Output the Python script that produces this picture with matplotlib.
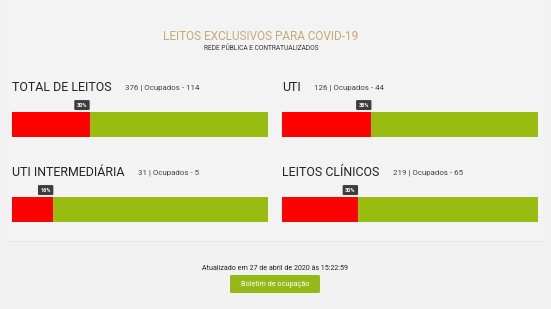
import matplotlib.pyplot as plt
from matplotlib.patches import FancyBboxPatch, Rectangle

plt.rcParams['font.family'] = ['Roboto', 'DejaVu Sans']

categories = ['TOTAL DE LEITOS', 'UTI', 'UTI INTERMEDIÁRIA', 'LEITOS CLÍNICOS']
totals = [376, 126, 31, 219]
occupied = [114, 44, 5, 65]
pct_labels = ['30%', '35%', '16%', '30%']

W, H = 551, 309
fig = plt.figure(figsize=(W / 100, H / 100), dpi=100)
fig.patch.set_facecolor('#f2f2f2')


def fx(x):
    return x / W


def fy(y):
    return 1 - y / H


# barely lighter panel behind the bars
fig.add_artist(Rectangle((fx(8), fy(241)), fx(535), 241 / H, transform=fig.transFigure,
                         fc='#f3f3f3', ec='none', zorder=0))
fig.add_artist(plt.Line2D([fx(8), fx(543)], [fy(241), fy(241)], color='#e8e8e8', lw=0.8))

# header
fig.text(fx(261), fy(36), 'LEITOS EXCLUSIVOS PARA COVID-19', ha='center', va='center',
         fontsize=8.5, color='#c8a874')
fig.text(fx(261), fy(48), 'REDE PÚBLICA E CONTRATUALIZADOS', ha='center', va='center',
         fontsize=4.8, color='#333333')

# panel layout (pixels): left edge, bar top
lefts = [12, 282, 12, 282]
tops = [112, 112, 197, 197]
bar_w, bar_h = 256, 25

for i, cat in enumerate(categories):
    x0, y0 = lefts[i], tops[i]
    ax = fig.add_axes([fx(x0), fy(y0 + bar_h), bar_w / W, bar_h / H])
    share = occupied[i] / totals[i] * 100
    ax.barh([0], [share], height=1, left=0, color='#ff0000', edgecolor='none')
    ax.barh([0], [100 - share], height=1, left=share, color='#98bc0f', edgecolor='none')
    ax.set_xlim(0, 100)
    ax.set_ylim(-0.5, 0.5)
    ax.axis('off')

    t = fig.text(fx(x0), fy(88), cat, ha='left', va='center', fontsize=8.9, color='#222222')
    if i >= 2:
        t.set_y(fy(173))
    ax.annotate(f'{totals[i]} | Ocupados - {occupied[i]}', xy=(1, 0.5), xycoords=t,
                xytext=(9.5, 0), textcoords='offset points', ha='left', va='center',
                fontsize=5.7, color='#444444')

    # percentage badge, right-aligned to the end of the red segment
    ax.annotate(pct_labels[i], xy=(share, 0.5), xycoords=('data', 'axes fraction'),
                xytext=(-5.5, 14), textcoords='offset points', ha='center', va='center',
                fontsize=4, color='white', fontweight='bold',
                bbox=dict(boxstyle='round,pad=0.45,rounding_size=0.2', fc='#3d3d3d', ec='none'))

# footer
fig.text(fx(275), fy(268), 'Atualizado em 27 de abril de 2020 às 15:22:59', ha='center',
         va='center', fontsize=5.1, color='#222222')
btn = FancyBboxPatch((fx(230), fy(293)), fx(90), 18 / H, boxstyle='round,pad=0,rounding_size=0.004',
                     transform=fig.transFigure, fc='#95b917', ec='none')
fig.add_artist(btn)
fig.text(fx(275), fy(284), 'Boletim de ocupação', ha='center', va='center',
         fontsize=5.2, color='white')

fig.savefig('out.png', dpi=100, facecolor=fig.get_facecolor())
